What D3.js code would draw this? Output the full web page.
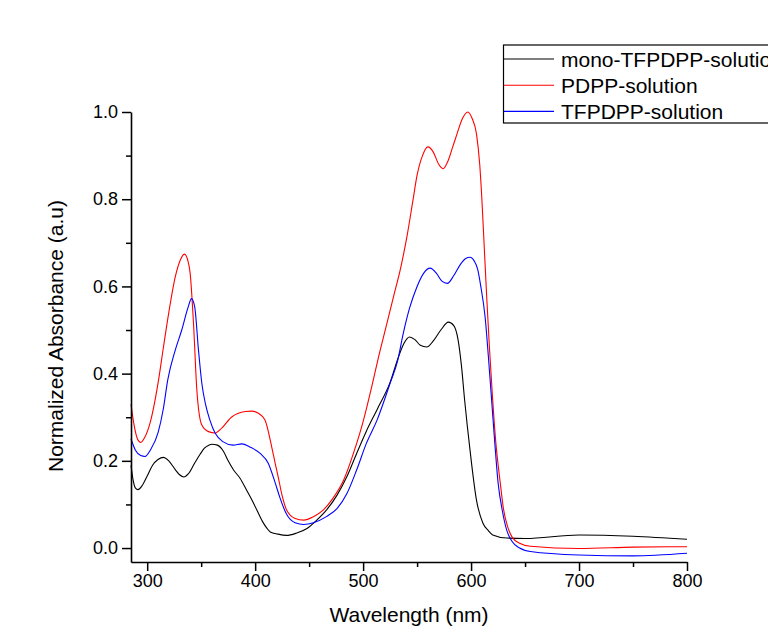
<!DOCTYPE html>
<html>
<head>
<meta charset="utf-8">
<script src="https://cdn.jsdelivr.net/npm/d3@7"></script>
<style>
  body { margin: 0; background: #fff; }
  text { font-family: Arial, "Liberation Sans", sans-serif; fill: #000; }
</style>
</head>
<body>
<div id="spectra"></div>
<script>
// series names (legend order) and colours
var seriesNames = ["mono-TFPDPP-solution", "PDPP-solution", "TFPDPP-solution"];
var seriesColors = ["#000000", "#ff0000", "#0000ff"];

// mono-TFPDPP-solution (black)
var monoWl = [285, 287, 289, 291.5, 295, 300, 305, 310, 315, 320, 326, 330, 334, 338, 344, 349, 353, 357, 360, 365, 370.6, 375, 380, 386, 392, 397, 402, 407, 411, 414, 421, 429, 438, 448, 457, 466, 476, 485, 494, 503, 513, 525, 533, 538, 543, 548, 553, 559, 565, 572, 579, 584, 588, 591, 594, 599, 605, 611, 616, 620, 633, 650, 700, 750, 800];
var monoAbs = [0.19, 0.155, 0.138, 0.134, 0.142, 0.165, 0.19, 0.203, 0.208, 0.2, 0.18, 0.168, 0.163, 0.17, 0.195, 0.215, 0.229, 0.236, 0.238, 0.236, 0.222, 0.2, 0.179, 0.16, 0.133, 0.11, 0.085, 0.06, 0.045, 0.037, 0.032, 0.029, 0.034, 0.045, 0.064, 0.087, 0.122, 0.164, 0.217, 0.268, 0.318, 0.38, 0.44, 0.47, 0.484, 0.478, 0.465, 0.461, 0.475, 0.5, 0.518, 0.51, 0.477, 0.42, 0.34, 0.225, 0.11, 0.057, 0.04, 0.03, 0.023, 0.022, 0.03, 0.027, 0.02];

// PDPP-solution (red)
var pdppWl = [285, 288, 291, 294, 298, 303, 310.5, 315, 320, 326, 330.6, 334.5, 337.6, 339.8, 342.9, 346, 350.6, 356.8, 363, 369, 378, 391, 397, 403, 409, 415.5, 418.5, 421.6, 425, 429, 437, 445, 454, 463, 472, 482, 491, 500, 508, 514, 521, 528, 535, 541, 546, 550, 555, 560, 565, 570, 574, 579, 583, 587, 592, 597, 601, 605, 608, 610, 612, 614.6, 617, 620, 623, 627, 630, 634, 638, 645, 655, 700, 750, 800];
var pdppAbs = [0.33, 0.28, 0.25, 0.242, 0.255, 0.29, 0.385, 0.46, 0.54, 0.622, 0.66, 0.674, 0.66, 0.63, 0.515, 0.362, 0.282, 0.267, 0.264, 0.275, 0.3, 0.313, 0.314, 0.309, 0.294, 0.23, 0.195, 0.16, 0.12, 0.088, 0.068, 0.064, 0.072, 0.087, 0.114, 0.156, 0.217, 0.29, 0.37, 0.435, 0.505, 0.575, 0.645, 0.72, 0.795, 0.855, 0.9, 0.92, 0.908, 0.88, 0.87, 0.89, 0.92, 0.95, 0.985, 1.0, 0.985, 0.95, 0.88, 0.8, 0.7, 0.57, 0.46, 0.34, 0.24, 0.15, 0.09, 0.048, 0.025, 0.011, 0.004, -0.001, 0.002, 0.003];

// TFPDPP-solution (blue)
var tfWl = [285, 289, 294, 298, 303, 310, 315, 319, 326, 332, 338, 341, 344, 347.5, 350.6, 354, 358, 363, 370, 379.6, 387.7, 395, 404.6, 412, 418.5, 423, 429, 437, 445, 454, 466, 476, 485, 494, 503, 513, 525, 532, 537, 543, 550, 556, 562, 568, 573, 578, 584, 590, 595, 599, 603, 606, 609, 613, 616, 619, 622, 625, 629, 633, 638, 645, 655, 700, 750, 800];
var tfAbs = [0.25, 0.225, 0.212, 0.21, 0.225, 0.264, 0.32, 0.385, 0.454, 0.5, 0.553, 0.572, 0.553, 0.454, 0.378, 0.33, 0.294, 0.263, 0.244, 0.236, 0.239, 0.232, 0.217, 0.195, 0.15, 0.115, 0.078, 0.058, 0.054, 0.058, 0.072, 0.091, 0.125, 0.179, 0.24, 0.294, 0.378, 0.43, 0.49, 0.55, 0.6, 0.63, 0.642, 0.63, 0.612, 0.607, 0.625, 0.65, 0.664, 0.667, 0.658, 0.64, 0.6, 0.53, 0.44, 0.34, 0.24, 0.15, 0.085, 0.041, 0.015, 0.0, -0.008, -0.016, -0.018, -0.012];

// tick values
var xMajor = [300, 400, 500, 600, 700, 800];
var xMinor = [350, 450, 550, 650, 750];
var yMajor = [0.0, 0.2, 0.4, 0.6, 0.8, 1.0];
var yMinor = [0.1, 0.3, 0.5, 0.7, 0.9];

var width = 768, height = 628;

var svg = d3.select("#spectra")
  .append("svg")
    .attr("width", width)
    .attr("height", height);

// scales (plot area in page pixels)
var x = d3.scaleLinear().domain([285, 800]).range([131, 687]);
var y = d3.scaleLinear().domain([-0.032, 1.0]).range([562, 112]);

// put series together for drawing
var series = [
  {name: seriesNames[0], color: seriesColors[0], pts: d3.zip(monoWl, monoAbs)},
  {name: seriesNames[1], color: seriesColors[1], pts: d3.zip(pdppWl, pdppAbs)},
  {name: seriesNames[2], color: seriesColors[2], pts: d3.zip(tfWl, tfAbs)}
];

var line = d3.line()
  .curve(d3.curveMonotoneX)
  .x(function(d) { return x(d[0]); })
  .y(function(d) { return y(d[1]); });

// draw black first, then red, then blue on top
svg.append("g")
  .selectAll("path")
  .data(series)
  .enter().append("path")
    .attr("d", function(d) { return line(d.pts); })
    .attr("fill", "none")
    .attr("stroke", function(d) { return d.color; })
    .attr("stroke-width", 1.1);

// x axis, major + minor
svg.append("g")
  .attr("transform", "translate(0,562)")
  .call(d3.axisBottom(x).tickValues(xMajor).tickSize(9).tickSizeOuter(0).tickPadding(3).tickFormat(d3.format("d")));
svg.append("g")
  .attr("transform", "translate(0,562)")
  .call(d3.axisBottom(x).tickValues(xMinor).tickSize(5).tickFormat(""))
  .select(".domain").remove();

// y axis, major + minor
svg.append("g")
  .attr("transform", "translate(131,0)")
  .call(d3.axisLeft(y).tickValues(yMajor).tickSize(9).tickSizeOuter(0).tickPadding(4).tickFormat(d3.format(".1f")));
svg.append("g")
  .attr("transform", "translate(131,0)")
  .call(d3.axisLeft(y).tickValues(yMinor).tickSize(5).tickFormat(""))
  .select(".domain").remove();

svg.selectAll(".tick line").attr("stroke", "#000").attr("stroke-width", 1.5);
svg.selectAll(".domain").attr("stroke", "#000").attr("stroke-width", 1.6);
svg.selectAll(".tick text")
  .style("font-family", "Arial, 'Liberation Sans', sans-serif")
  .style("font-size", "18px")
  .attr("fill", "#000");

// axis titles
svg.append("text")
  .attr("x", 409)
  .attr("y", 622)
  .attr("text-anchor", "middle")
  .style("font-size", "21px")
  .text("Wavelength (nm)");

svg.append("text")
  .attr("transform", "translate(63,336) rotate(-90)")
  .attr("text-anchor", "middle")
  .style("font-size", "21px")
  .text("Normalized Absorbance (a.u)");

// legend box (runs off the right edge like the original)
var legend = svg.append("g");
legend.append("rect")
  .attr("x", 503.5)
  .attr("y", 45)
  .attr("width", 290)
  .attr("height", 78)
  .attr("fill", "#fff")
  .attr("stroke", "#000")
  .attr("stroke-width", 1.2);

var rows = legend.selectAll(".row")
  .data(series)
  .enter().append("g")
    .attr("class", "row")
    .attr("transform", function(d, i) { return "translate(0," + (i * 26.2) + ")"; });

rows.append("line")
  .attr("x1", 504).attr("x2", 554)
  .attr("y1", 59).attr("y2", 59)
  .attr("stroke", function(d) { return d.color; })
  .attr("stroke-width", 1.1);

rows.append("text")
  .attr("x", 561)
  .attr("y", 67)
  .style("font-size", "21px")
  .text(function(d) { return d.name; });
</script>
</body>
</html>
